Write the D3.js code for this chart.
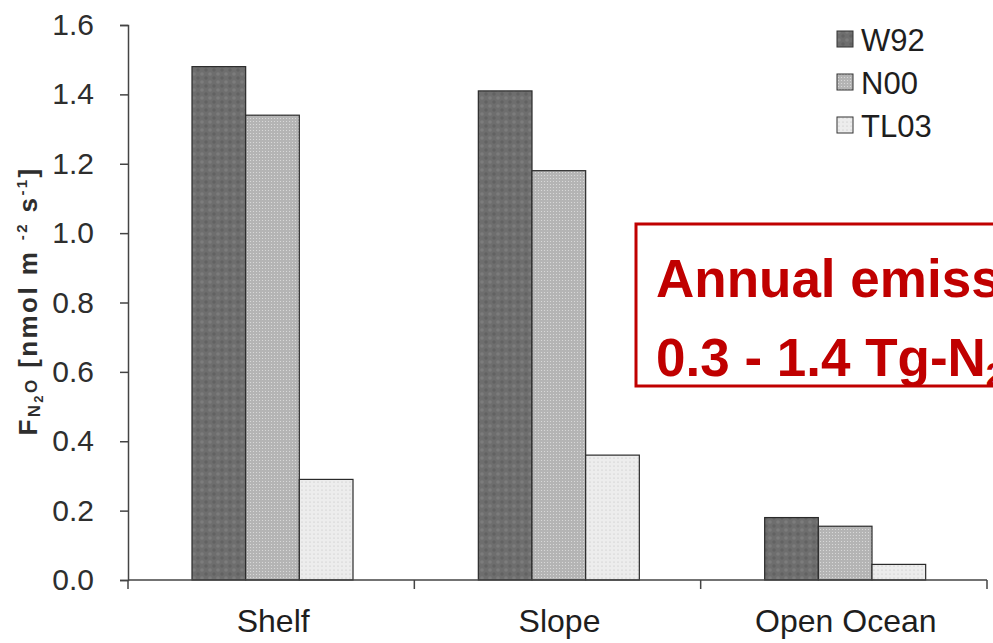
<!DOCTYPE html>
<html>
<head>
<meta charset="utf-8">
<script src="https://cdn.jsdelivr.net/npm/d3@7"></script>
<style>
  html, body { margin: 0; padding: 0; background: #fff; }
  svg { display: block; }
  text { font-family: "Liberation Sans", Arial, sans-serif; }
</style>
</head>
<body>
<svg id="chart" width="993" height="643"></svg>
<script>
// Sea-to-air N2O flux estimates by region and parameterisation
const regions = ["Shelf", "Slope", "Open Ocean"];
const schemes = ["W92", "N00", "TL03"];
const w92  = [1.48, 1.41, 0.18];
const n00  = [1.34, 1.18, 0.155];
const tl03 = [0.29, 0.36, 0.045];
const yTicks = [0.0, 0.2, 0.4, 0.6, 0.8, 1.0, 1.2, 1.4, 1.6];
const boxTitle = "Annual emissions:";
const boxRange = ["0.3 - 1.4 Tg-N", "2", "O yr", "-1"];

const values = [w92, n00, tl03];
const fills = ["url(#patW92)", "url(#patN00)", "url(#patTL03)"];

const svg = d3.select("#chart");
const margin = { left: 128, right: 6, top: 25, bottom: 63 };
const W = 993, H = 643;

// Fill textures for the three series
const defs = svg.append("defs");
const p1 = defs.append("pattern").attr("id", "patW92").attr("patternUnits", "userSpaceOnUse")
  .attr("width", 8).attr("height", 8);
p1.append("rect").attr("width", 8).attr("height", 8).attr("fill", "#6e6e6e");
p1.append("circle").attr("cx", 2).attr("cy", 2).attr("r", 1.8).attr("fill", "#7c7c7c");
p1.append("circle").attr("cx", 6).attr("cy", 6).attr("r", 1.8).attr("fill", "#626262");

const p2 = defs.append("pattern").attr("id", "patN00").attr("patternUnits", "userSpaceOnUse")
  .attr("width", 3).attr("height", 3);
p2.append("rect").attr("width", 3).attr("height", 3).attr("fill", "#b4b4b4");
p2.append("circle").attr("cx", 1.5).attr("cy", 1.5).attr("r", 0.6).attr("fill", "#dedede");

const p3 = defs.append("pattern").attr("id", "patTL03").attr("patternUnits", "userSpaceOnUse")
  .attr("width", 4).attr("height", 4);
p3.append("rect").attr("width", 4).attr("height", 4).attr("fill", "#ededed");
p3.append("circle").attr("cx", 2).attr("cy", 2).attr("r", 0.6).attr("fill", "#bdbdbd");

const x = d3.scaleBand().domain(regions).range([margin.left, 987]).paddingInner(0).paddingOuter(0);
const y = d3.scaleLinear().domain([0, 1.6]).range([H - margin.bottom, margin.top]);
const inner = d3.scaleBand().domain(schemes).range([64, 64 + 161]);

// Bars
schemes.forEach((s, si) => {
  svg.append("g").selectAll("rect")
    .data(regions.map((r, ri) => ({ r, v: values[si][ri] })))
    .join("rect")
    .attr("x", d => x(d.r) + inner(s))
    .attr("y", d => y(d.v))
    .attr("width", inner.bandwidth())
    .attr("height", d => y(0) - y(d.v))
    .attr("fill", fills[si])
    .attr("stroke", "#2a2a2a")
    .attr("stroke-width", 1.2);
});

// Y axis
const yAxis = svg.append("g")
  .attr("transform", `translate(${margin.left},0)`)
  .call(d3.axisLeft(y).tickValues(yTicks).tickFormat(d3.format(".1f")).tickSize(8).tickPadding(26));
yAxis.select(".domain").attr("stroke", "#444").attr("stroke-width", 1.5);
yAxis.selectAll(".tick line").attr("stroke", "#444").attr("stroke-width", 1.5);
yAxis.selectAll(".tick text").attr("font-size", 30).attr("fill", "#2e2e2e")
  .attr("font-family", "Liberation Sans, Arial, sans-serif");

// X axis with ticks on band boundaries
const xAxis = svg.append("g").attr("transform", `translate(0,${y(0)})`);
xAxis.append("line").attr("x1", margin.left).attr("x2", 987)
  .attr("stroke", "#444").attr("stroke-width", 1.5);
const bounds = regions.map(r => x(r)).concat([x.range()[1]]);
xAxis.selectAll("line.tk").data(bounds).join("line").attr("class", "tk")
  .attr("x1", d => d).attr("x2", d => d).attr("y1", 0).attr("y2", 9)
  .attr("stroke", "#444").attr("stroke-width", 1.5);
xAxis.selectAll("text").data(regions).join("text")
  .attr("x", d => x(d) + x.bandwidth() / 2 + 2)
  .attr("y", 52)
  .attr("text-anchor", "middle")
  .attr("font-size", 32).attr("fill", "#1e1e1e")
  .text(d => d);

// Y axis title
const yt = svg.append("text")
  .attr("transform", "translate(37,301) rotate(-90)")
  .attr("text-anchor", "middle")
  .attr("letter-spacing", 2.4)
  .attr("font-size", 26).attr("font-weight", "bold").attr("fill", "#2e2e2e");
yt.append("tspan").text("F");
yt.append("tspan").attr("font-size", 17).attr("dy", 3).text("N");
yt.append("tspan").attr("font-size", 13).attr("dy", 3).text("2");
yt.append("tspan").attr("font-size", 17).attr("dy", -6).text("O");
yt.append("tspan").attr("dy", 0).text(" [nmol m ");
yt.append("tspan").attr("font-size", 15).attr("dy", -10).text("-2");
yt.append("tspan").attr("dy", 10).text(" s");
yt.append("tspan").attr("font-size", 15).attr("dy", -10).text("-1");
yt.append("tspan").attr("dy", 10).text("]");

// Legend
const legend = svg.append("g").attr("transform", "translate(837,30)");
schemes.forEach((s, i) => {
  const g = legend.append("g").attr("transform", `translate(0,${i * 43})`);
  g.append("rect").attr("x", 0).attr("y", 1).attr("width", 16).attr("height", 16)
    .attr("fill", fills[i]).attr("stroke", "#333").attr("stroke-width", 1);
  g.append("text").attr("x", 24).attr("y", 21).attr("font-size", 31).attr("fill", "#1e1e1e").text(s);
});

// Annotation box
const box = svg.append("g");
box.append("rect").attr("x", 636).attr("y", 224).attr("width", 420).attr("height", 162)
  .attr("fill", "#fff").attr("stroke", "#c00000").attr("stroke-width", 3);
box.append("text")
  .attr("x", 656).attr("y", 297)
  .attr("font-size", 53).attr("font-weight", "bold").attr("fill", "#c00000")
  .text(boxTitle);
const range = box.append("text")
  .attr("x", 656).attr("y", 376)
  .attr("font-size", 53).attr("font-weight", "bold").attr("fill", "#c00000");
range.append("tspan").text(boxRange[0]);
range.append("tspan").attr("font-size", 34).attr("dy", 10).text(boxRange[1]);
range.append("tspan").attr("dy", -10).text(boxRange[2]);
range.append("tspan").attr("font-size", 34).attr("dy", -20).text(boxRange[3]);
</script>
</body>
</html>
